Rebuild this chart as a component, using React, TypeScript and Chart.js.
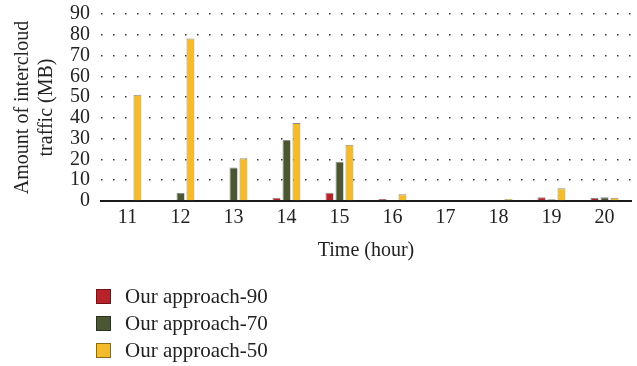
import React, { useEffect, useRef } from "react";
import { Chart, registerables } from "chart.js";

Chart.register(...registerables);

const categories = ["11", "12", "13", "14", "15", "16", "17", "18", "19", "20"];
const approach90 = [0, 0, 0, 1.6, 4.0, 1.0, 0, 0.5, 1.8, 1.5];
const approach70 = [0, 3.9, 16.1, 29.4, 18.9, 0.5, 0, 0, 0.8, 1.8];
const approach50 = [51.1, 78.2, 20.6, 37.6, 27.1, 3.2, 0, 1.0, 6.1, 1.6];
const seriesNames = ["Our approach-90", "Our approach-70", "Our approach-50"];
const seriesColors = ["#b8232a", "#4b5632", "#f4bc2c"];
const seriesBorders = ["#6e1418", "#2c331c", "#8a6a14"];
const yTitle = ["Amount of intercloud", "traffic (MB)"];
const xTitle = "Time (hour)";

const FONT = "'Liberation Serif', 'Times New Roman', serif";

export default function App() {
  const ref = useRef<HTMLCanvasElement | null>(null);

  useEffect(() => {
    if (!ref.current) return;
    const values = [approach90, approach70, approach50];
    const chart = new Chart(ref.current, {
      type: "bar",
      data: {
        labels: categories,
        datasets: values.map((v, i) => ({
          label: seriesNames[i],
          data: v,
          backgroundColor: seriesColors[i],
          borderColor: "#8a8a8a",
          borderWidth: { left: 1, top: 1, right: 0, bottom: 0 },
          borderSkipped: false,
          categoryPercentage: 0.567,
          barPercentage: 0.8,
        })),
      },
      options: {
        responsive: false,
        devicePixelRatio: 1,
        animation: false,
        layout: { padding: { left: 11, right: 6, top: 14, bottom: 103 } },
        plugins: {
          legend: { display: false },
          tooltip: { enabled: false },
        },
        scales: {
          x: {
            grid: { display: false, drawTicks: false },
            border: { display: true, color: "#1a1a1a", width: 2 },
            ticks: {
              color: "#222",
              font: { family: FONT, size: 20 },
              padding: 5,
            },
            title: {
              display: true,
              text: xTitle,
              color: "#222",
              font: { family: FONT, size: 20 },
              padding: { top: 4, bottom: 0 },
            },
          },
          y: {
            min: 0,
            max: 90,
            afterFit: (scale: any) => {
              scale.paddingTop = 0;
            },
            ticks: {
              stepSize: 10,
              autoSkip: false,
              color: "#222",
              font: { family: FONT, size: 20 },
              padding: 11,
            },
            grid: {
              drawTicks: false,
              color: "#333",
              lineWidth: 1.5,
            },
            border: { display: false, dash: [1.5, 10.5] },
            title: {
              display: true,
              text: yTitle,
              color: "#222",
              font: { family: FONT, size: 20, lineHeight: 1.2 },
              padding: { top: 0, bottom: 0 },
            },
          },
        },
      },
    });
    return () => chart.destroy();
  }, []);

  const rowTops = [288, 315, 342];

  return (
    <div
      style={{
        position: "fixed",
        left: 0,
        top: 0,
        width: 637,
        height: 366,
        background: "#fff",
      }}
    >
      <canvas ref={ref} width={637} height={366} style={{ display: "block", width: 637, height: 366 }} />
      {seriesNames.map((name, i) => (
        <div
          key={name}
          style={{
            position: "absolute",
            left: 96,
            top: rowTops[i],
            height: 16,
            display: "flex",
            alignItems: "center",
            fontFamily: FONT,
            fontSize: 21,
            color: "#222",
            whiteSpace: "nowrap",
          }}
        >
          <span
            style={{
              display: "inline-block",
              width: 13,
              height: 13,
              background: seriesColors[i],
              border: `1px solid ${seriesBorders[i]}`,
              marginRight: 14,
            }}
          />
          <span style={{ lineHeight: "16px" }}>{name}</span>
        </div>
      ))}
    </div>
  );
}
